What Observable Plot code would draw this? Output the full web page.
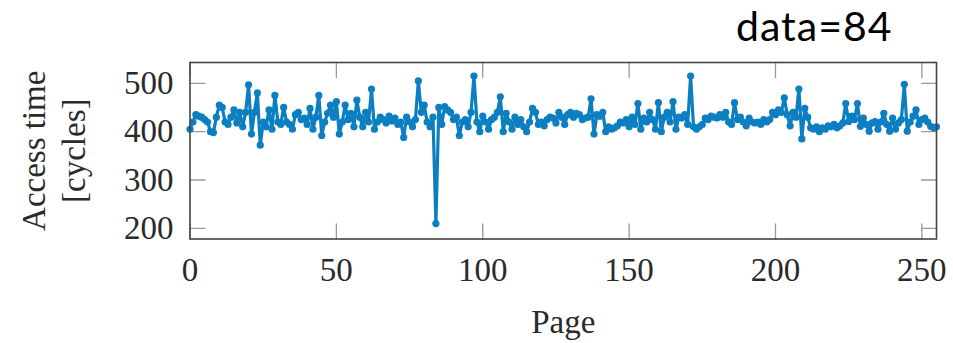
<!DOCTYPE html>
<html><head><meta charset="utf-8">
<script src="https://cdn.jsdelivr.net/npm/d3@7"></script>
<script src="https://cdn.jsdelivr.net/npm/@observablehq/plot@0.6"></script>
<style>
body{margin:0;background:#fff}
#wrap{position:relative;width:953px;height:343px}
#note{position:absolute;left:736px;top:5px;font-family:Lato,sans-serif;font-size:41px;line-height:41px;letter-spacing:1px;color:#000;white-space:nowrap}
</style>
</head><body><div id="wrap"><div id="chart"></div><div id="note"></div></div>
<script>
// Access time (cycles) per page 0..255
const accessTime = [
405,420,435,432,430,425,420,400,398,430,455,450,420,415,430,445,418,440,410,440,
497,395,440,480,372,420,410,445,405,475,420,415,450,420,415,405,435,440,425,428,
415,448,405,430,475,392,420,438,455,430,462,395,420,455,425,438,410,465,430,410,
440,420,488,405,420,430,425,418,432,422,428,415,420,388,430,420,410,425,505,440,
455,420,410,430,210,450,415,452,445,440,425,430,392,420,425,410,440,515,420,400,
432,420,405,425,430,440,472,400,438,420,405,430,415,425,410,400,420,448,440,415,
420,412,425,430,428,418,440,430,415,435,440,430,438,435,425,428,430,468,395,435,
432,440,400,410,405,408,412,420,418,425,410,430,415,458,405,428,420,440,425,405,
460,400,430,440,420,462,405,430,428,435,415,515,410,405,410,415,428,425,432,430,
428,435,430,440,420,415,460,425,430,420,412,428,420,418,420,415,425,420,425,440,
435,445,440,470,435,412,440,430,488,385,448,430,408,405,410,400,408,405,412,410,
415,408,412,418,458,421,432,425,458,411,428,415,401,418,421,405,420,438,415,401,
428,405,418,425,498,401,420,432,445,415,425,428,420,411,408,410
];
const pages = accessTime.map((_, i) => i);
const xTicks = [0, 50, 100, 150, 200, 250];
const yTicks = [200, 300, 400, 500];
const xLabel = "Page";
const yLabel = "Access time\n[cycles]";
const note = "data=84";

const data = pages.map((p, i) => ({page: p, time: accessTime[i]}));
const blue = "#0b7fc1";
const tickShape = {draw(context, l) { context.moveTo(0, 0); context.lineTo(0, -l); }};
const tickStyle = {length: 15, anchor: "start", shape: tickShape, stroke: "#9a9a9a", strokeWidth: 1.3};

const chart = Plot.plot({
  width: 953,
  height: 343,
  marginLeft: 189.5,
  marginRight: 17,
  marginTop: 62,
  marginBottom: 104.5,
  x: {domain: [0, 255], label: null},
  y: {domain: [178, 543], label: null},
  style: {fontFamily: "'Liberation Serif', serif", fontSize: "33px", color: "#2a2a2a", background: "#fff"},
  marks: [
    Plot.vector(xTicks, {x: d => d, frameAnchor: "bottom", rotate: 0, ...tickStyle}),
    Plot.vector(xTicks, {x: d => d, frameAnchor: "top", rotate: 180, ...tickStyle}),
    Plot.vector(yTicks, {y: d => d, frameAnchor: "left", rotate: 90, ...tickStyle}),
    Plot.vector(yTicks, {y: d => d, frameAnchor: "right", rotate: -90, ...tickStyle}),
    Plot.line(data, {x: "page", y: "time", stroke: blue, strokeWidth: 3.2, strokeLinejoin: "round"}),
    Plot.dot(data, {x: "page", y: "time", r: 3.6, fill: blue}),
    Plot.frame({stroke: "#444", strokeWidth: 1.6}),
    Plot.axisX(xTicks, {tickSize: 0, tickPadding: 19, label: null}),
    Plot.axisY(yTicks, {tickSize: 0, tickPadding: 16.5, label: null}),
    Plot.text([xLabel], {frameAnchor: "bottom", dy: 83.5, lineAnchor: "middle", fill: "#2a2a2a"}),
    Plot.text([yLabel], {frameAnchor: "left", dx: -137.5, rotate: -90, textAnchor: "middle", lineAnchor: "middle", lineHeight: 1.21, fill: "#2a2a2a"})
  ]
});
document.getElementById("chart").append(chart);
document.getElementById("note").textContent = note;
</script>
</body></html>
